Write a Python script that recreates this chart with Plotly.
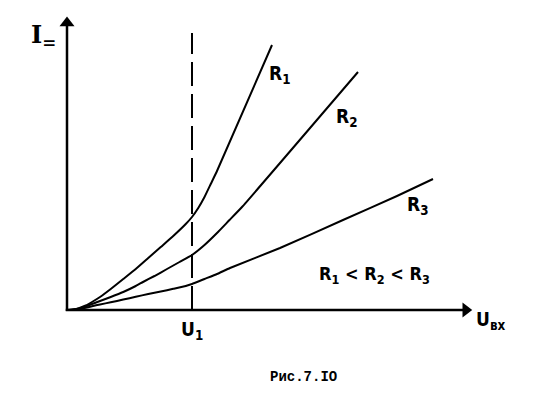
import plotly.graph_objects as go

# ---- data (U in units of U1, I in arbitrary units) ----
u_r1 = [0.0, 0.05, 0.1, 0.15, 0.2, 0.264, 0.35, 0.45, 0.55, 0.65, 0.75, 0.85, 0.95, 1.0,
        1.05, 1.1, 1.15, 1.2, 1.64]
i_r1 = [0.0, 0.005, 0.02, 0.045, 0.08, 0.13, 0.21, 0.31, 0.41, 0.52, 0.63, 0.74, 0.86, 0.93,
        1.02, 1.13, 1.26, 1.39, 2.65]

u_r2 = [0.0, 0.05, 0.1, 0.15, 0.2, 0.264, 0.35, 0.45, 0.55, 0.608, 0.7, 0.8, 0.9, 1.0,
        1.1, 1.2, 1.3, 1.4, 2.328]
i_r2 = [0.0, 0.004, 0.015, 0.035, 0.06, 0.09, 0.13, 0.18, 0.24, 0.28, 0.34, 0.41, 0.48, 0.55,
        0.65, 0.77, 0.90, 1.03, 2.38]

u_r3 = [0.0, 0.05, 0.1, 0.15, 0.2, 0.264, 0.35, 0.45, 0.55, 0.65, 0.75, 0.85, 0.95, 1.0,
        1.1, 1.2, 1.304, 1.704, 2.208, 2.64, 2.928]
i_r3 = [0.0, 0.003, 0.01, 0.022, 0.038, 0.055, 0.077, 0.104, 0.132, 0.16, 0.185, 0.212, 0.24, 0.26,
        0.31, 0.36, 0.42, 0.62, 0.90, 1.14, 1.31]

u1 = 1.0
u_axis_end = 3.24
i_axis_end = 2.93
dash_top = 2.77

series_labels = ["R<sub>1</sub>", "R<sub>2</sub>", "R<sub>3</sub>"]

fig = go.Figure()
for u, i in [(u_r1, i_r1), (u_r2, i_r2), (u_r3, i_r3)]:
    fig.add_trace(go.Scatter(x=u, y=i, mode="lines",
                             line=dict(color="black", width=2, shape="spline", smoothing=0.4),
                             hoverinfo="skip", showlegend=False))

# dashed U1 line
fig.add_trace(go.Scatter(x=[u1, u1], y=[0, dash_top], mode="lines",
                         line=dict(color="black", width=2, dash="24px,8px"), showlegend=False, hoverinfo="skip"))
# axis lines
fig.add_trace(go.Scatter(x=[-0.01, u_axis_end - 0.06], y=[0, 0], mode="lines",
                         line=dict(color="black", width=2.5), showlegend=False, hoverinfo="skip"))
fig.add_trace(go.Scatter(x=[0, 0], y=[-0.01, i_axis_end - 0.06], mode="lines",
                         line=dict(color="black", width=2.5), showlegend=False, hoverinfo="skip"))
# arrowheads
fig.add_trace(go.Scatter(x=[u_axis_end - 0.05], y=[0], mode="markers",
                         marker=dict(symbol="triangle-right", size=13, color="black"),
                         showlegend=False, hoverinfo="skip"))
fig.add_trace(go.Scatter(x=[0], y=[i_axis_end - 0.06], mode="markers",
                         marker=dict(symbol="triangle-up", size=13, color="black"),
                         showlegend=False, hoverinfo="skip"))

lab_family = "DejaVu Sans Condensed, Liberation Sans Narrow, DejaVu Sans"
lab_font = dict(family=lab_family, size=19, color="black", weight="bold")
# curve labels
fig.add_annotation(x=1.70, y=2.36, text=series_labels[0], showarrow=False, font=lab_font)
fig.add_annotation(x=2.24, y=1.93, text=series_labels[1], showarrow=False, font=lab_font)
fig.add_annotation(x=2.81, y=1.05, text=series_labels[2], showarrow=False, font=lab_font)
fig.add_annotation(x=2.46, y=0.35, text="R<sub>1</sub> &lt; R<sub>2</sub> &lt; R<sub>3</sub>",
                   showarrow=False, font=dict(family=lab_family, size=18, color="black", weight="bold"))
# axis labels
fig.add_annotation(x=-0.19, y=2.74, text="I<sub>=</sub>", showarrow=False,
                   font=dict(family="DejaVu Serif", size=24, color="black", weight="bold"))
fig.add_annotation(x=3.39, y=-0.10, text="U<sub>вх</sub>", showarrow=False, font=lab_font)
fig.add_annotation(x=u1, y=-0.20, text="U<sub>1</sub>", showarrow=False, font=lab_font)
# caption
fig.add_annotation(x=1.888, y=-0.67, text="Рис.7.IO", showarrow=False,
                   font=dict(family="Liberation Mono", size=14, color="black", weight="bold"))

fig.update_xaxes(range=[-0.536, 3.936], visible=False)
fig.update_yaxes(range=[-0.84, 3.10], visible=False)
fig.update_layout(width=559, height=394, margin=dict(l=0, r=0, t=0, b=0),
                  paper_bgcolor="white", plot_bgcolor="white")
fig.write_html("out.html")
